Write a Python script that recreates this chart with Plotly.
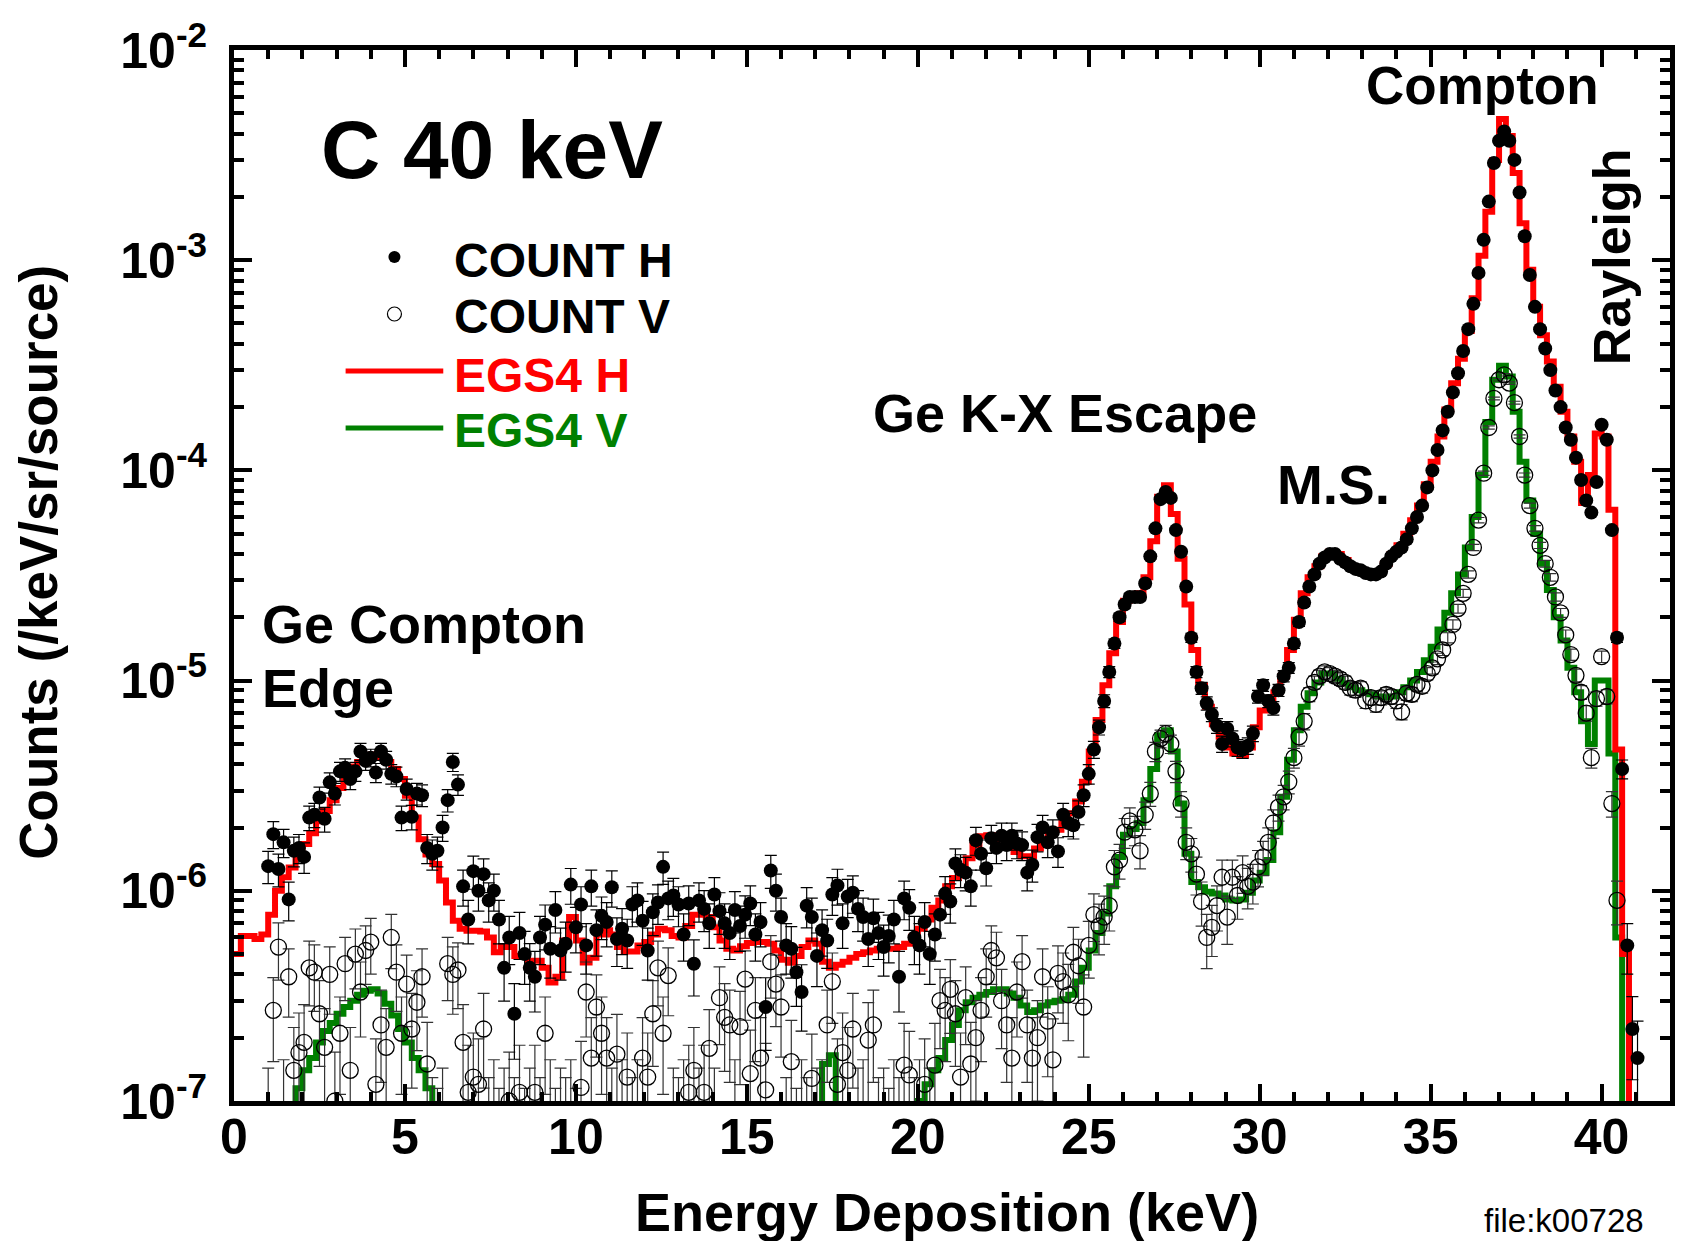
import numpy as np
import plotly.graph_objects as go

# ---------------------------------------------------------------------------
# EGS4 simulated spectra: histogram contents, 0.2 keV bins starting at 0 keV
# (values below 1e-7 lie under the plotted range)
# ---------------------------------------------------------------------------
SIM_BIN = 0.2

egs4_h = [
    # 0-2 keV
    5.0e-7, 6.1e-7, 6.1e-7, 5.9e-7, 6.2e-7, 7.7e-7, 1.0e-6, 1.16e-6, 1.29e-6, 1.48e-6,
    # 2-4 keV
    1.67e-6, 1.88e-6, 2.14e-6, 2.4e-6, 2.7e-6, 3.08e-6, 3.5e-6, 3.9e-6, 4.1e-6, 4.35e-6,
    # 4-6 keV
    4.45e-6, 4.3e-6, 4.1e-6, 3.8e-6, 3.4e-6, 2.83e-6, 2.23e-6, 1.76e-6, 1.49e-6, 1.34e-6,
    # 6-8 keV
    1.12e-6, 8.8e-7, 7.2e-7, 6.6e-7, 6.45e-7, 6.45e-7, 6.4e-7, 6.0e-7, 5.1e-7, 5.4e-7,
    # 8-10 keV
    5.4e-7, 4.9e-7, 4.95e-7, 4.65e-7, 4.65e-7, 4.3e-7, 3.66e-7, 3.9e-7, 5.8e-7, 7.5e-7,
    # 10-12 keV
    5.8e-7, 4.56e-7, 4.8e-7, 6.2e-7, 6.5e-7, 6.2e-7, 5.4e-7, 5.15e-7, 5.15e-7, 5.5e-7,
    # 12-14 keV
    5.7e-7, 6.2e-7, 6.6e-7, 6.5e-7, 6.1e-7, 6.0e-7, 6.8e-7, 7.7e-7, 7.7e-7, 7.5e-7,
    # 14-16 keV
    6.7e-7, 5.8e-7, 5.3e-7, 5.2e-7, 5.45e-7, 5.65e-7, 5.7e-7, 5.7e-7, 5.6e-7, 5.2e-7,
    # 16-18 keV
    4.7e-7, 4.55e-7, 4.9e-7, 5.4e-7, 5.8e-7, 5.6e-7, 4.6e-7, 4.3e-7, 4.45e-7, 4.6e-7,
    # 18-20 keV
    4.8e-7, 5.0e-7, 5.1e-7, 5.2e-7, 5.3e-7, 5.3e-7, 5.3e-7, 5.4e-7, 5.6e-7, 6.05e-7,
    # 20-22 keV
    6.6e-7, 7.3e-7, 8.3e-7, 9.0e-7, 1.05e-6, 1.15e-6, 1.28e-6, 1.43e-6, 1.65e-6, 1.82e-6,
    # 22-24 keV
    1.84e-6, 1.81e-6, 1.76e-6, 1.71e-6, 1.53e-6, 1.46e-6, 1.46e-6, 1.59e-6, 1.74e-6, 1.86e-6,
    # 24-26 keV
    1.95e-6, 2.1e-6, 2.34e-6, 2.66e-6, 3.3e-6, 4.6e-6, 6.5e-6, 9.5e-6, 1.35e-5, 1.9e-5,
    # 26-28 keV
    2.4e-5, 2.5e-5, 2.6e-5, 3.1e-5, 4.6e-5, 7.5e-5, 8.5e-5, 6.2e-5, 3.8e-5, 2.3e-5,
    # 28-30 keV
    1.4e-5, 9.5e-6, 7.5e-6, 6.2e-6, 5.4e-6, 4.8e-6, 4.5e-6, 4.4e-6, 4.8e-6, 6.0e-6,
    # 30-32 keV
    7.2e-6, 7.9e-6, 8.8e-6, 1.05e-5, 1.4e-5, 1.95e-5, 2.6e-5, 3.1e-5, 3.5e-5, 3.9e-5,
    # 32-34 keV
    4.1e-5, 4.0e-5, 3.75e-5, 3.5e-5, 3.4e-5, 3.3e-5, 3.25e-5, 3.3e-5, 3.6e-5, 4.0e-5,
    # 34-36 keV
    4.4e-5, 5.0e-5, 5.8e-5, 6.8e-5, 8.6e-5, 1.1e-4, 1.45e-4, 1.95e-4, 2.6e-4, 3.4e-4,
    # 36-38 keV
    4.6e-4, 6.6e-4, 1.05e-3, 1.7e-3, 3.0e-3, 4.7e-3, 3.9e-3, 2.6e-3, 1.5e-3, 9.0e-4,
    # 38-40 keV
    6.0e-4, 4.4e-4, 3.3e-4, 2.5e-4, 1.9e-4, 1.45e-4, 1.1e-4, 7.0e-5, 9.5e-5, 1.5e-4,
    # 40-41 keV
    1.45e-4, 6.5e-5, 4.7e-6, 5.0e-7, 5.0e-8,
]

egs4_v = [
    # 0-2 keV
    5e-8, 5e-8, 5e-8, 5e-8, 5e-8, 5e-8, 5e-8, 5e-8, 9e-8, 1.15e-7,
    # 2-4 keV
    1.4e-7, 1.6e-7, 1.9e-7, 2.15e-7, 2.35e-7, 2.6e-7, 2.8e-7, 3.0e-7, 3.2e-7, 3.35e-7,
    # 4-6 keV
    3.4e-7, 3.25e-7, 2.9e-7, 2.55e-7, 2.2e-7, 1.9e-7, 1.6e-7, 1.4e-7, 1.15e-7, 9e-8,
    # 6-8 keV
    5e-8, 5e-8, 5e-8, 5e-8, 5e-8, 5e-8, 5e-8, 5e-8, 5e-8, 5e-8,
    # 8-10 keV
    5e-8, 5e-8, 5e-8, 5e-8, 5e-8, 5e-8, 5e-8, 5e-8, 5e-8, 5e-8,
    # 10-12 keV
    5e-8, 5e-8, 5e-8, 5e-8, 5e-8, 5e-8, 5e-8, 5e-8, 5e-8, 5e-8,
    # 12-14 keV
    5e-8, 5e-8, 5e-8, 5e-8, 5e-8, 5e-8, 5e-8, 5e-8, 5e-8, 5e-8,
    # 14-16 keV
    5e-8, 5e-8, 5e-8, 5e-8, 5e-8, 5e-8, 5e-8, 5e-8, 5e-8, 5e-8,
    # 16-18 keV
    5e-8, 5e-8, 5e-8, 5e-8, 5e-8, 5e-8, 1.5e-7, 1.65e-7, 9e-8, 5e-8,
    # 18-20 keV
    5e-8, 5e-8, 5e-8, 5e-8, 5e-8, 5e-8, 5e-8, 5e-8, 5e-8, 5e-8,
    # 20-22 keV
    1.0e-7, 1.2e-7, 1.4e-7, 1.6e-7, 1.95e-7, 2.3e-7, 2.7e-7, 2.95e-7, 3.1e-7, 3.2e-7,
    # 22-24 keV
    3.3e-7, 3.4e-7, 3.4e-7, 3.25e-7, 3.1e-7, 2.85e-7, 2.65e-7, 2.7e-7, 2.85e-7, 2.95e-7,
    # 24-26 keV
    3.0e-7, 3.05e-7, 3.2e-7, 3.7e-7, 4.3e-7, 5.2e-7, 6.3e-7, 7.8e-7, 1.05e-6, 1.45e-6,
    # 26-28 keV
    1.85e-6, 1.97e-6, 2.1e-6, 2.7e-6, 3.8e-6, 5.5e-6, 5.8e-6, 4.6e-6, 2.6e-6, 1.5e-6,
    # 28-30 keV
    1.1e-6, 1.04e-6, 9.9e-7, 9.7e-7, 9.5e-7, 9.1e-7, 9.0e-7, 9.1e-7, 9.8e-7, 1.12e-6,
    # 30-32 keV
    1.22e-6, 1.4e-6, 1.9e-6, 2.8e-6, 4.2e-6, 5.8e-6, 7.5e-6, 8.7e-6, 9.8e-6, 1.08e-5,
    # 32-34 keV
    1.08e-5, 1.02e-5, 9.7e-6, 9.3e-6, 9.0e-6, 8.8e-6, 8.6e-6, 8.4e-6, 8.3e-6, 8.4e-6,
    # 34-36 keV
    8.8e-6, 9.3e-6, 1.0e-5, 1.1e-5, 1.25e-5, 1.45e-5, 1.75e-5, 2.1e-5, 2.6e-5, 3.2e-5,
    # 36-38 keV
    4.3e-5, 6.0e-5, 9.5e-5, 1.7e-4, 2.7e-4, 3.15e-4, 2.8e-4, 1.9e-4, 1.1e-4, 7.2e-5,
    # 38-40 keV
    5.0e-5, 3.6e-5, 2.7e-5, 2.0e-5, 1.55e-5, 1.15e-5, 8.8e-6, 6.4e-6, 5.0e-6, 1.0e-5,
    # 40-41 keV
    1.0e-5, 4.5e-6, 6e-7, 5e-8, 5e-8,
]

# ---------------------------------------------------------------------------
# Measured spectra (horizontal / vertical), 0.15 keV spacing from 1.0 keV
# ---------------------------------------------------------------------------
DATA_START = 1.0
DATA_STEP = 0.15

count_h = [
    # 1.00-3.85 keV
    1.31e-6, 1.86e-6, 1.27e-6, 1.7e-6, 9.1e-7, 1.55e-6, 1.6e-6, 1.45e-6, 2.23e-6, 2.3e-6,
    2.78e-6, 2.2e-6, 3.28e-6, 2.9e-6, 3.7e-6, 3.85e-6, 3.4e-6, 3.7e-6, 4.6e-6, 4.15e-6,
    # 4.00-6.85 keV
    4.3e-6, 3.65e-6, 4.6e-6, 4.2e-6, 3.6e-6, 3.5e-6, 2.23e-6, 3.05e-6, 2.25e-6, 2.9e-6,
    2.85e-6, 1.6e-6, 1.5e-6, 1.55e-6, 2.0e-6, 2.7e-6, 4.1e-6, 3.2e-6, 1.05e-6, 7.3e-7,
    # 7.00-9.85 keV
    1.24e-6, 1.0e-6, 1.2e-6, 9.0e-7, 1.0e-6, 7.3e-7, 4.3e-7, 6.0e-7, 2.6e-7, 6.3e-7,
    5.0e-7, 4.3e-7, 3.9e-7, 6.0e-7, 6.9e-7, 5.3e-7, 8.1e-7, 5.2e-7, 5.6e-7, 1.07e-6,
    # 10.00-12.85 keV
    6.7e-7, 8.6e-7, 5.5e-7, 1.05e-6, 6.5e-7, 7.6e-7, 7.1e-7, 1.04e-6, 5.9e-7, 6.6e-7,
    5.8e-7, 8.6e-7, 9.0e-7, 7.2e-7, 5.2e-7, 7.9e-7, 8.8e-7, 1.3e-6, 9.2e-7, 9.5e-7,
    # 13.00-15.85 keV
    8.6e-7, 6.2e-7, 8.7e-7, 4.5e-7, 9.0e-7, 8.2e-7, 7.0e-7, 9.6e-7, 8.0e-7, 7.0e-7,
    6.3e-7, 8.1e-7, 6.8e-7, 7.7e-7, 8.7e-7, 6.2e-7, 7.1e-7, 2.8e-7, 1.25e-6, 1.0e-6,
    # 16.00-18.85 keV
    7.5e-7, 5.5e-7, 5.3e-7, 4.1e-7, 3.3e-7, 8.5e-7, 7.5e-7, 4.9e-7, 6.5e-7, 5.8e-7,
    9.6e-7, 1.06e-6, 7.0e-7, 9.4e-7, 9.8e-7, 8.2e-7, 7.5e-7, 5.9e-7, 7.4e-7, 6.3e-7,
    # 19.00-21.85 keV
    5.4e-7, 6.1e-7, 7.3e-7, 3.9e-7, 9.2e-7, 8.3e-7, 6.0e-7, 5.5e-7, 7.1e-7, 5.0e-7,
    6.2e-7, 7.7e-7, 9.7e-7, 8.9e-7, 1.35e-6, 1.26e-6, 1.22e-6, 1.05e-6, 1.74e-6, 1.5e-6,
    # 22.00-24.85 keV
    1.28e-6, 1.78e-6, 1.6e-6, 1.83e-6, 1.65e-6, 1.83e-6, 1.68e-6, 1.65e-6, 1.22e-6, 1.33e-6,
    1.8e-6, 2.0e-6, 1.7e-6, 1.9e-6, 1.54e-6, 2.3e-6, 2.1e-6, 2.05e-6, 2.37e-6, 2.85e-6,
    # 25.00-27.85 keV
    3.6e-6, 4.7e-6, 6.0e-6, 8.0e-6, 1.1e-5, 1.5e-5, 2.0e-5, 2.3e-5, 2.5e-5, 2.5e-5,
    2.5e-5, 2.9e-5, 3.9e-5, 5.3e-5, 7.3e-5, 7.9e-5, 7.4e-5, 5.2e-5, 4.1e-5, 2.8e-5,
    # 28.00-30.85 keV
    1.6e-5, 1.1e-5, 9.2e-6, 7.8e-6, 6.9e-6, 6.1e-6, 5.0e-6, 5.9e-6, 5.3e-6, 4.8e-6,
    4.7e-6, 4.9e-6, 5.6e-6, 8.4e-6, 9.5e-6, 8.0e-6, 7.4e-6, 9.0e-6, 1.05e-5, 1.15e-5,
    # 31.00-33.85 keV
    1.5e-5, 1.9e-5, 2.35e-5, 2.8e-5, 3.2e-5, 3.6e-5, 3.85e-5, 4.0e-5, 4.0e-5, 3.8e-5,
    3.65e-5, 3.5e-5, 3.4e-5, 3.35e-5, 3.25e-5, 3.2e-5, 3.2e-5, 3.3e-5, 3.6e-5, 3.9e-5,
    # 34.00-36.85 keV
    4.1e-5, 4.3e-5, 4.7e-5, 5.3e-5, 6.0e-5, 6.8e-5, 8.3e-5, 1.0e-4, 1.25e-4, 1.55e-4,
    1.9e-4, 2.35e-4, 2.9e-4, 3.7e-4, 4.7e-4, 6.2e-4, 8.7e-4, 1.25e-3, 1.9e-3, 2.9e-3,
    # 37.00-39.85 keV
    3.7e-3, 4.1e-3, 3.7e-3, 3.0e-3, 2.1e-3, 1.3e-3, 8.5e-4, 6.0e-4, 4.7e-4, 3.8e-4,
    3.0e-4, 2.4e-4, 2.0e-4, 1.6e-4, 1.4e-4, 1.15e-4, 9.0e-5, 7.2e-5, 6.3e-5, 8.8e-5,
    # 40.00-41.05 keV
    1.65e-4, 1.4e-4, 5.2e-5, 1.6e-5, 3.8e-6, 5.5e-7, 2.2e-7, 1.6e-7,
]

count_v = [
    # 1.00-3.85 keV
    8e-8, 2.7e-7, 5.4e-7, 9e-8, 3.9e-7, 1.4e-7, 1.7e-7, 1.9e-7, 4.3e-7, 4.1e-7,
    2.6e-7, 1.8e-7, 4.0e-7, 1.0e-7, 2.1e-7, 4.5e-7, 1.4e-7, 5.0e-7, 3.3e-7, 5.2e-7,
    # 4.00-6.85 keV
    5.7e-7, 1.2e-7, 2.3e-7, 1.8e-7, 6.0e-7, 4.1e-7, 2.1e-7, 3.6e-7, 2.2e-7, 2.95e-7,
    3.9e-7, 1.5e-7, 7e-8, 6e-8, 8e-8, 4.5e-7, 4.0e-7, 4.2e-7, 1.9e-7, 1.1e-7,
    # 7.00-9.85 keV
    1.3e-7, 1.2e-7, 2.2e-7, 7e-8, 9e-8, 6e-8, 8e-8, 1.0e-7, 7e-8, 1.1e-7,
    6e-8, 8e-8, 1.1e-7, 7e-8, 2.1e-7, 9e-8, 6e-8, 8e-8, 7e-8, 9e-8,
    # 10.00-12.85 keV
    6e-8, 1.16e-7, 3.3e-7, 1.6e-7, 2.8e-7, 2.1e-7, 1.6e-7, 8e-8, 1.67e-7, 9e-8,
    1.3e-7, 7e-8, 9e-8, 1.6e-7, 1.3e-7, 2.6e-7, 4.3e-7, 2.1e-7, 3.95e-7, 8e-8,
    # 13.00-15.85 keV
    7e-8, 9e-8, 1.1e-7, 1.4e-7, 8e-8, 1.1e-7, 1.78e-7, 8e-8, 3.1e-7, 2.5e-7,
    2.3e-7, 9e-8, 2.26e-7, 3.8e-7, 1.35e-7, 2.7e-7, 1.6e-7, 1.13e-7, 4.6e-7, 3.6e-7,
    # 16.00-18.85 keV
    2.8e-7, 7e-8, 1.54e-7, 6e-8, 9e-8, 7e-8, 1.28e-7, 8e-8, 9e-8, 2.3e-7,
    3.7e-7, 1.2e-7, 1.7e-7, 1.4e-7, 2.2e-7, 8e-8, 9e-8, 1.95e-7, 2.3e-7, 7e-8,
    # 19.00-21.85 keV
    8e-8, 6e-8, 9e-8, 7e-8, 1.48e-7, 1.33e-7, 7e-8, 9e-8, 1.2e-7, 8e-8,
    1.48e-7, 3.0e-7, 2.7e-7, 3.4e-7, 2.6e-7, 1.3e-7, 3.1e-7, 1.5e-7, 2.0e-7, 2.7e-7,
    # 22.00-24.85 keV
    3.9e-7, 5.2e-7, 4.8e-7, 3.0e-7, 2.3e-7, 1.6e-7, 3.3e-7, 4.6e-7, 2.3e-7, 1.6e-7,
    2.0e-7, 3.9e-7, 2.4e-7, 1.57e-7, 4.05e-7, 3.7e-7, 3.2e-7, 5.1e-7, 4.4e-7, 2.8e-7,
    # 25.00-27.85 keV
    5.5e-7, 7.7e-7, 6.8e-7, 7.5e-7, 8.5e-7, 1.3e-6, 1.4e-6, 1.9e-6, 2.15e-6, 1.95e-6,
    1.55e-6, 2.3e-6, 2.9e-6, 4.6e-6, 5.3e-6, 5.6e-6, 5.0e-6, 3.7e-6, 2.6e-6, 1.7e-6,
    # 28.00-30.85 keV
    1.5e-6, 1.2e-6, 8.9e-7, 6.0e-7, 6.7e-7, 8.5e-7, 1.16e-6, 7.5e-7, 1.16e-6, 9.5e-7,
    1.22e-6, 1.05e-6, 1.1e-6, 1.3e-6, 1.45e-6, 1.7e-6, 2.1e-6, 2.5e-6, 2.8e-6, 3.3e-6,
    # 31.00-33.85 keV
    4.3e-6, 5.4e-6, 6.4e-6, 8.6e-6, 9.8e-6, 1.05e-5, 1.1e-5, 1.08e-5, 1.05e-5, 1.02e-5,
    9.8e-6, 9.2e-6, 9.0e-6, 9.2e-6, 8.0e-6, 8.3e-6, 7.7e-6, 8.3e-6, 8.6e-6, 8.4e-6,
    # 34.00-36.85 keV
    8.0e-6, 7.1e-6, 8.7e-6, 8.6e-6, 9.6e-6, 9.4e-6, 1.08e-5, 1.15e-5, 1.27e-5, 1.4e-5,
    1.6e-5, 1.85e-5, 2.2e-5, 2.6e-5, 3.2e-5, 4.3e-5, 5.8e-5, 9.7e-5, 1.6e-4, 2.2e-4,
    # 37.00-39.85 keV
    2.7e-4, 2.85e-4, 2.6e-4, 2.1e-4, 1.45e-4, 9.5e-5, 6.8e-5, 5.3e-5, 4.4e-5, 3.6e-5,
    3.1e-5, 2.5e-5, 2.1e-5, 1.65e-5, 1.33e-5, 1.06e-5, 8.8e-6, 7.0e-6, 4.3e-6, 8.2e-6,
    # 40.00-40.45 keV
    1.3e-5, 8.4e-6, 2.6e-6, 9e-7,
]

# Statistical (Poisson) uncertainty scale: sigma^2 = NORM * counts
NORM_H = 4.0e-8
NORM_V = 5.0e-8

# y-axis decades and their labels
y_decades = [1e-7, 1e-6, 1e-5, 1e-4, 1e-3, 1e-2]
y_labels = ["10<sup>-7</sup>", "10<sup>-6</sup>", "10<sup>-5</sup>",
            "10<sup>-4</sup>", "10<sup>-3</sup>", "10<sup>-2</sup>"]

RED = "#ff0000"
GREEN = "#008000"
FONT = "Liberation Sans, Arial, Helvetica, sans-serif"

# ---------------------------------------------------------------------------
# Derived arrays
# ---------------------------------------------------------------------------
def step_xy(values, width):
    edges = np.arange(len(values) + 1) * width
    return edges, list(values) + [values[-1]]

x_sh, y_sh = step_xy(egs4_h, SIM_BIN)
x_sv, y_sv = step_xy(egs4_v, SIM_BIN)

e_h = np.round(DATA_START + DATA_STEP * np.arange(len(count_h)), 3)
e_v = np.round(DATA_START + DATA_STEP * np.arange(len(count_v)), 3)
err_h = np.sqrt(np.array(count_h) * NORM_H)
err_v = np.sqrt(np.array(count_v) * NORM_V)

# ---------------------------------------------------------------------------
# Figure
# ---------------------------------------------------------------------------
W, H = 1681, 1241
LEFT, RIGHT, TOP, BOTTOM = 234, 6, 50, 140
PW = W - LEFT - RIGHT
PH = H - TOP - BOTTOM


def px(x):
    return (x - LEFT) / PW


def py(y):
    return 1 - (y - TOP) / PH


fig = go.Figure()

fig.add_trace(go.Scatter(
    x=x_sv, y=y_sv, mode="lines", line=dict(color=GREEN, width=6, shape="hv"),
    name="EGS4 V", hoverinfo="skip"))
fig.add_trace(go.Scatter(
    x=x_sh, y=y_sh, mode="lines", line=dict(color=RED, width=6, shape="hv"),
    name="EGS4 H", hoverinfo="skip"))
fig.add_trace(go.Scatter(
    x=e_v, y=count_v, mode="markers", name="COUNT V",
    marker=dict(symbol="circle-open", size=16, color="black", line=dict(width=1.3, color="black")),
    error_y=dict(type="data", array=err_v, color="#333333", thickness=1.2, width=6)))
fig.add_trace(go.Scatter(
    x=e_h, y=count_h, mode="markers", name="COUNT H",
    marker=dict(symbol="circle", size=14, color="black"),
    error_y=dict(type="data", array=err_h, color="black", thickness=1.2, width=6)))

minor_y = [m * 10.0 ** e for e in range(-7, -2) for m in range(2, 10)]

fig.update_layout(
    width=W, height=H,
    margin=dict(l=LEFT, r=RIGHT, t=TOP, b=BOTTOM),
    paper_bgcolor="white", plot_bgcolor="white",
    showlegend=False,
    font=dict(family=FONT, color="black"),
)

fig.update_xaxes(
    range=[0, 42], dtick=5, tick0=0,
    ticks="inside", ticklen=17, tickwidth=4, tickcolor="black",
    showline=True, linewidth=5, linecolor="black", mirror="allticks",
    showgrid=False, zeroline=False,
    tickfont=dict(family=FONT, size=50, weight="bold", color="black"),
    ticklabelstandoff=-12,
    minor=dict(dtick=1, tick0=0, ticks="inside", ticklen=9, tickwidth=4,
               tickcolor="black", showgrid=False),
)
fig.update_yaxes(
    type="log", range=[-7, -2],
    tickmode="array", tickvals=y_decades, ticktext=y_labels,
    ticks="inside", ticklen=18, tickwidth=4, tickcolor="black",
    showline=True, linewidth=5, linecolor="black", mirror="allticks",
    showgrid=False, zeroline=False,
    tickfont=dict(family=FONT, size=50, weight="bold", color="black"),
    ticklabelstandoff=12,
    minor=dict(tickmode="array", tickvals=minor_y, ticks="inside", ticklen=10,
               tickwidth=4, tickcolor="black", showgrid=False),
)

annotations = []


def label(text, x, y, size, color="black", xanchor="center", angle=0, bold=True):
    annotations.append(dict(
        text=text, x=px(x), y=py(y), xref="paper", yref="paper",
        xanchor=xanchor, yanchor="middle", showarrow=False, textangle=angle,
        font=dict(family=FONT, size=size, color=color,
                  weight="bold" if bold else "normal")))


label("C 40 keV", 493, 150, 82)
label("COUNT H", 453, 260, 48, xanchor="left")
label("COUNT V", 453, 316, 48, xanchor="left")
label("EGS4 H", 453, 375, 48, color=RED, xanchor="left")
label("EGS4 V", 453, 431, 48, color=GREEN, xanchor="left")
label("Ge K-X Escape", 1068, 413, 54)
label("M.S.", 1337, 485, 55)
label("Compton", 1487, 85, 53)
label("Rayleigh", 1617, 257, 52, angle=-90)
label("Ge Compton", 260, 624, 54, xanchor="left")
label("Edge", 260, 688, 54, xanchor="left")
label("Energy Deposition (keV)", 949, 1212, 54)
label("Counts (/keV/sr/source)", 37, 562, 53, angle=-90)
label("file:k00728", 1569, 1220, 33, bold=False)

shapes = [
    dict(type="line", xref="paper", yref="paper", x0=px(346), x1=px(444),
         y0=py(371), y1=py(371), line=dict(color=RED, width=5)),
    dict(type="line", xref="paper", yref="paper", x0=px(346), x1=px(444),
         y0=py(428), y1=py(428), line=dict(color=GREEN, width=5)),
    dict(type="circle", xref="paper", yref="paper", xsizemode="pixel", ysizemode="pixel",
         xanchor=px(395), yanchor=py(257), x0=-6, x1=6, y0=-6, y1=6,
         fillcolor="black", line=dict(width=0)),
    dict(type="circle", xref="paper", yref="paper", xsizemode="pixel", ysizemode="pixel",
         xanchor=px(395), yanchor=py(314), x0=-7, x1=7, y0=-7, y1=7,
         fillcolor="rgba(0,0,0,0)", line=dict(color="black", width=1.2)),
]

fig.update_layout(annotations=annotations, shapes=shapes)

fig.write_html("out.html")
